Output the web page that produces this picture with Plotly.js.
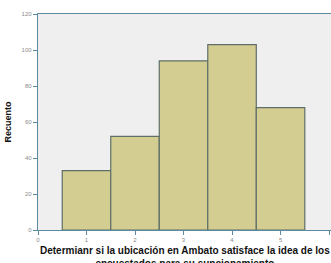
<!DOCTYPE html>
<html>
<head>
<meta charset="utf-8">
<script src="https://cdn.plot.ly/plotly-3.0.1.min.js"></script>
<style>html,body{margin:0;padding:0;background:#fff;}#chart{width:331px;height:263px;}</style>
</head>
<body>
<div id="chart"></div>
<script>
var categories = [1, 2, 3, 4, 5];
var counts = [33, 52, 94, 103, 68];
var xTicks = [0, 1, 2, 3, 4, 5, 6];
var yTicks = [0, 20, 40, 60, 80, 100, 120];
var xTitle = "Determianr si la ubicación en Ambato satisface la idea de los<br>encuestados para su suncionamiento";
var yTitle = "Recuento";

var trace = {
  type: 'bar',
  x: categories,
  y: counts,
  width: 1,
  marker: {color: '#d3cd91', line: {color: '#5f6f68', width: 1.2}},
  hoverinfo: 'none'
};

var axisCommon = {
  showgrid: false,
  zeroline: false,
  showline: true,
  linecolor: '#5d8aa0',
  linewidth: 1.2,
  ticks: 'outside',
  ticklen: 4,
  tickwidth: 1,
  tickcolor: '#5d8aa0',
  tickfont: {family: 'Liberation Sans, Arial, sans-serif', size: 6, color: '#8a8a8a'},
  fixedrange: true
};

var layout = {
  width: 331, height: 263,
  margin: {l: 38, r: 0, t: 14, b: 33},
  paper_bgcolor: '#ffffff',
  plot_bgcolor: '#efefef',
  showlegend: false,
  bargap: 0,
  xaxis: Object.assign({}, axisCommon, {
    range: [0, 6.04],
    tickmode: 'array', tickvals: xTicks, ticktext: xTicks.map(String),
    mirror: true,
    automargin: false
  }),
  yaxis: Object.assign({}, axisCommon, {
    range: [0, 120],
    tickmode: 'array', tickvals: yTicks, ticktext: yTicks.map(String),
    automargin: false,
    title: {text: yTitle, standoff: 8, font: {family: 'Liberation Sans, Arial, sans-serif', size: 9, color: '#111', weight: 'bold'}}
  }),
  annotations: [{
    text: xTitle,
    xref: 'paper', yref: 'paper',
    x: 0.5, y: 0,
    xanchor: 'center', yanchor: 'top',
    yshift: -13,
    showarrow: false,
    align: 'center',
    font: {family: 'Liberation Sans, Arial, sans-serif', size: 10, color: '#111', weight: 'bold'}
  }]
};

Plotly.newPlot('chart', [trace], layout, {staticPlot: true, displayModeBar: false});
</script>
</body>
</html>
